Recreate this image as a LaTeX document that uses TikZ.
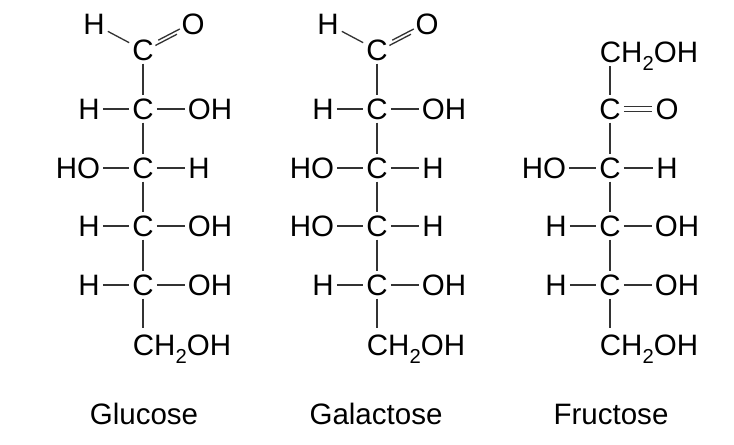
\documentclass[tikz,border=0pt]{standalone}
\usepackage{fontspec}
\setmainfont{Liberation Sans}
\newcommand{\chtwooh}{CH\raisebox{-0.5ex}{\fontsize{11.5}{12}\selectfont 2}OH}
\begin{document}
\begin{tikzpicture}[%
    x=0.02cm,
    y=-0.02cm,
    atom/.style={%
      font=\fontsize{16.8}{20}\selectfont,
      inner sep=0pt,
      outer sep=1.8pt,
      text height=12pt,
      text depth=0pt,
      anchor=center
    },
    sugar/.style={font=\fontsize{16.8}{20}\selectfont,inner sep=0pt},
    bond/.style={line width=0.75pt,black!80}
  ]
    \useasboundingbox (0,0) rectangle (734,444);

    % glucose
    \node[atom] (g0) at (143,50)  {C};
    \node[atom] (gh) at (94,24)   {H};
    \node[atom] (go) at (193,24)  {O};
    \node[atom] (g1) at (143,109) {C};
    \node[atom] (g2) at (143,168) {C};
    \node[atom] (g3) at (143,226) {C};
    \node[atom] (g4) at (143,285) {C};
    \node[atom] (g5) at (182,345) {\chtwooh};
    \coordinate (g5t) at (143,328);
    \node[atom] (g1l) at (89,109)  {H};
    \node[atom] (g1r) at (210,109) {OH};
    \node[atom] (g2l) at (78,168)  {HO};
    \node[atom] (g2r) at (199,168) {H};
    \node[atom] (g3l) at (89,226)  {H};
    \node[atom] (g3r) at (210,226) {OH};
    \node[atom] (g4l) at (89,285)  {H};
    \node[atom] (g4r) at (210,285) {OH};
    \node[sugar] (gname) at (144,414) {Glucose};

    % galactose
    \node[atom] (a0) at (377,50)  {C};
    \node[atom] (ah) at (328,24)  {H};
    \node[atom] (ao) at (427,24)  {O};
    \node[atom] (a1) at (377,109) {C};
    \node[atom] (a2) at (377,168) {C};
    \node[atom] (a3) at (377,226) {C};
    \node[atom] (a4) at (377,285) {C};
    \node[atom] (a5) at (416,345) {\chtwooh};
    \coordinate (a5t) at (377,328);
    \node[atom] (a1l) at (323,109) {H};
    \node[atom] (a1r) at (444,109) {OH};
    \node[atom] (a2l) at (312,168) {HO};
    \node[atom] (a2r) at (433,168) {H};
    \node[atom] (a3l) at (312,226) {HO};
    \node[atom] (a3r) at (433,226) {H};
    \node[atom] (a4l) at (323,285) {H};
    \node[atom] (a4r) at (444,285) {OH};
    \node[sugar] (aname) at (376,414) {Galactose};

    % fructose
    \node[atom] (f0) at (649,52)  {\chtwooh};
    \coordinate (f0b) at (610,66);
    \node[atom] (f1) at (610,109) {C};
    \node[atom] (fo) at (667,109) {O};
    \node[atom] (f2) at (610,168) {C};
    \node[atom] (f3) at (610,226) {C};
    \node[atom] (f4) at (610,285) {C};
    \node[atom] (f5) at (649,345) {\chtwooh};
    \coordinate (f5t) at (610,328);
    \node[atom] (f2l) at (544,168) {HO};
    \node[atom] (f2r) at (667,168) {H};
    \node[atom] (f3l) at (556,226) {H};
    \node[atom] (f3r) at (677,226) {OH};
    \node[atom] (f4l) at (556,285) {H};
    \node[atom] (f4r) at (677,285) {OH};
    \node[sugar] (fname) at (611,414) {Fructose};

    \foreach \m in {g,a} {
      \draw[bond] (\m0) -- (\m1);
      \draw[bond] (\m1) -- (\m2);
      \draw[bond] (\m2) -- (\m3);
      \draw[bond] (\m3) -- (\m4);
      \draw[bond] (\m4) -- (\m5t);
      \draw[bond] (\m h) -- (\m0);
      \draw[bond,transform canvas={shift={(-0.8pt,-1.5pt)}}] (\m0) -- (\m o);
      \draw[bond,transform canvas={shift={(0.8pt,1.5pt)}}] (\m0) -- (\m o);
      \foreach \r in {1,2,3,4} {
        \draw[bond] (\m\r l) -- (\m\r);
        \draw[bond] (\m\r) -- (\m\r r);
      }
    }
    \draw[bond] (f0b) -- (f1);
    \draw[bond] (f1) -- (f2);
    \draw[bond] (f2) -- (f3);
    \draw[bond] (f3) -- (f4);
    \draw[bond] (f4) -- (f5t);
    \draw[bond,transform canvas={yshift=1.6pt}] (f1) -- (fo);
    \draw[bond,transform canvas={yshift=-1.6pt}] (f1) -- (fo);
    \foreach \r in {2,3,4} {
      \draw[bond] (f\r l) -- (f\r);
      \draw[bond] (f\r) -- (f\r r);
    }
  \end{tikzpicture}
\end{document}
